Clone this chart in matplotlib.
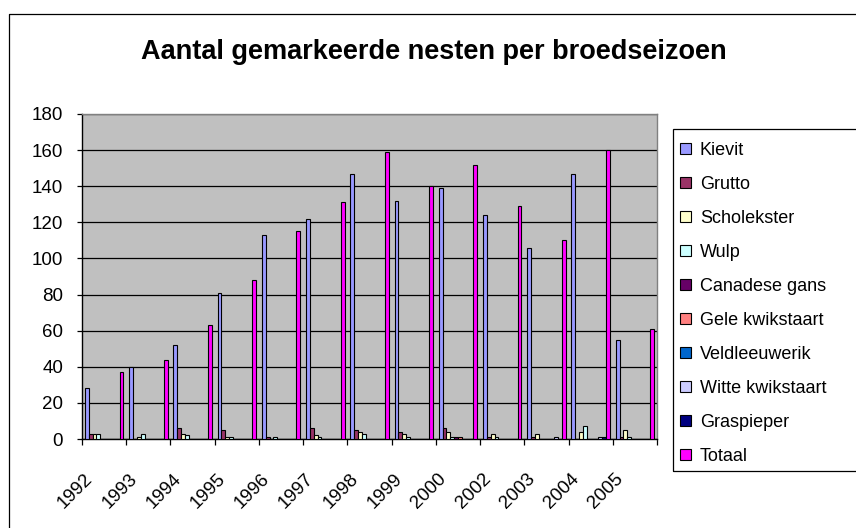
import numpy as np
import matplotlib
matplotlib.use("Agg")
import matplotlib.pyplot as plt
from matplotlib.lines import Line2D
from matplotlib.patches import Rectangle
from matplotlib.transforms import ScaledTranslation

plt.rcParams["font.family"] = ["Liberation Sans", "DejaVu Sans"]

# ---------------- data ----------------
years = ["1992", "1993", "1994", "1995", "1996", "1997", "1998",
         "1999", "2000", "2002", "2003", "2004", "2005"]

kievit = [28, 40, 52, 81, 113, 122, 147, 132, 139, 124, 106, 147, 55]
grutto = [3, 0, 6, 5, 1, 6, 5, 4, 6, 1, 1, 0, 1]
scholekster = [3, 1, 3, 1, 0, 2, 4, 3, 4, 3, 3, 4, 5]
wulp = [3, 3, 2, 1, 1, 1, 3, 1, 1, 1, 0, 7, 1]
canadese_gans = [0, 0, 0, 0, 0, 0, 0, 0, 1, 0, 0, 0, 0]
gele_kwikstaart = [0, 0, 0, 0, 0, 0, 0, 0, 1, 0, 0, 0, 0]
veldleeuwerik = [0, 0, 0, 0, 0, 0, 0, 0, 0, 0, 0, 0, 0]
witte_kwikstaart = [0, 0, 0, 0, 0, 0, 0, 0, 0, 0, 1, 1, 0]
graspieper = [0, 0, 0, 0, 0, 0, 0, 0, 0, 0, 0, 1, 0]
totaal = [37, 44, 63, 88, 115, 131, 159, 140, 152, 129, 110, 160, 61]

series_names = ["Kievit", "Grutto", "Scholekster", "Wulp", "Canadese gans",
                "Gele kwikstaart", "Veldleeuwerik", "Witte kwikstaart",
                "Graspieper", "Totaal"]
series_values = [kievit, grutto, scholekster, wulp, canadese_gans,
                 gele_kwikstaart, veldleeuwerik, witte_kwikstaart,
                 graspieper, totaal]
# Excel 2003 default series colours
series_colors = ["#9999FF", "#993366", "#FFFFCC", "#CCFFFF", "#660066",
                 "#FF8080", "#0066CC", "#CCCCFF", "#000080", "#FF00FF"]

title = "Aantal gemarkeerde nesten per broedseizoen"

# ---------------- figure ----------------
W, H = 856, 528
fig = plt.figure(figsize=(W / 100, H / 100), dpi=100)
fig.patch.set_facecolor("white")

# outer chart frame (cut off at right and bottom)
fig.add_artist(Line2D([8.5 / W, 8.5 / W, 1.0], [0.0, 1 - 13.5 / H, 1 - 13.5 / H],
                      transform=fig.transFigure, color="black", lw=0.9))

ax = fig.add_axes([82 / W, (H - 439) / H, (657 - 82) / W, (439 - 114) / H])
ax.set_facecolor("#C0C0C0")

n_cat = len(years)
n_ser = len(series_names)
slots = n_ser + 1.5          # gap width 150 %
bw = 1.0 / slots
x = np.arange(n_cat)

for i, (name, vals, col) in enumerate(zip(series_names, series_values, series_colors)):
    ax.bar(x + (0.75 + i) * bw, vals, width=bw, align="edge", color=col,
           edgecolor="black", linewidth=0.8, label=name, zorder=3)

ax.set_xlim(0, n_cat)
ax.set_ylim(0, 180)
ax.set_yticks(np.arange(0, 181, 20))
ax.yaxis.grid(True, color="black", lw=0.9, zorder=1)
ax.set_axisbelow(True)

for s in ("top", "right"):
    ax.spines[s].set_color("#808080")
    ax.spines[s].set_linewidth(1.0)
for s in ("left", "bottom"):
    ax.spines[s].set_color("black")
    ax.spines[s].set_linewidth(1.0)

ax.tick_params(axis="y", length=3.6, width=0.9, pad=10, labelsize=13.5, colors="black")

# category labels at centres, boundary ticks as minor ticks
ax.set_xticks(x + 0.5)
ax.set_xticklabels(years, rotation=45, ha="right", va="center", rotation_mode="anchor")
ax.set_xticks(np.arange(n_cat + 1), minor=True)
ax.tick_params(axis="x", which="major", length=0, pad=27, labelsize=13.5)
ax.tick_params(axis="x", which="minor", length=4.3, width=0.9, color="black")
shift = ScaledTranslation(-14 / 100, 0, fig.dpi_scale_trans)
for lab in ax.get_xticklabels():
    lab.set_transform(lab.get_transform() + shift)

fig.text(434 / W, (H - 59) / H, title, ha="center", va="baseline",
         fontsize=19.5, fontweight="bold")

# legend (box runs past the right edge of the picture)
fig.add_artist(Rectangle((672.5 / W, (H - 470.5) / H), 0.3, (470 - 128) / H,
                         transform=fig.transFigure, fill=False,
                         edgecolor="black", lw=0.9))
handles, labels = ax.get_legend_handles_labels()
fig.legend(handles, labels, loc="upper left",
           bbox_to_anchor=(680 / W, (H - 142) / H),
           frameon=False, fontsize=13, borderpad=0, borderaxespad=0,
           handlelength=0.6, handleheight=0.6, handletextpad=0.5,
           labelspacing=0.94)

fig.savefig("out.png", dpi=100)
